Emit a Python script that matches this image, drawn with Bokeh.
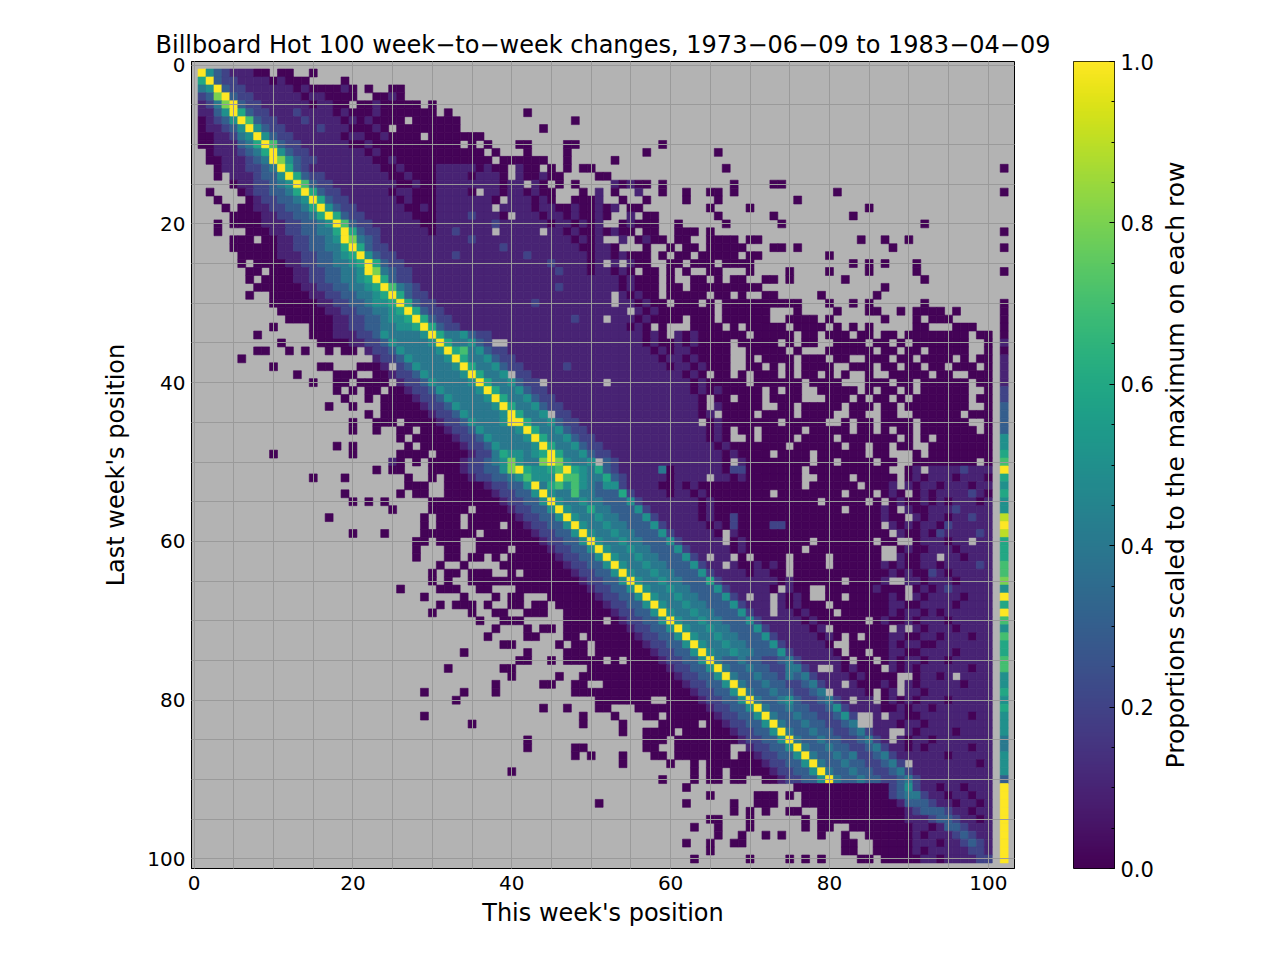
import numpy as np
from bokeh.plotting import figure
from bokeh.models import (Range1d, LinearColorMapper, ColumnDataSource, SingleIntervalTicker,
                          FixedTicker, PrintfTickFormatter)
from bokeh.transform import transform
from bokeh.layouts import row
from bokeh.embed import file_html
from bokeh.resources import INLINE
from bokeh.core.properties import value
from bokeh.palettes import Viridis256

# ---------------- texts / ticks ----------------
title_text = "Billboard Hot 100 week\u2212to\u2212week changes, 1973\u221206\u221209 to 1983\u221204\u221209"
x_label = "This week's position"
y_label = "Last week's position"
cbar_label = "Proportions scaled to the maximum on each row"
axis_tick_interval = 20
grid_ticks = list(range(0, 105, 5))
cbar_ticks = [0.0, 0.2, 0.4, 0.6, 0.8, 1.0]
cbar_minor = [round(0.05 * i, 2) for i in range(21)]
dropped_col = 102   # column where "dropped out of the chart" is shown

# ---------------- data ----------------
# One string per "last week" row: 100 cells for "this week" positions 1..100
# (10 groups of 10), then "|" and the dropped-out cell.
# '.' = no data, '0' ~ 0.0, '1'..'9' = 0.1..0.9, 'Y' = 1.0 (row maximum)
rows_01_25 = [
"Y53211100. 00..0..... | .",
"6Y32211110 1000....0. | .",
"45Y3221111 1101000010 .0..00.... | .",
"238Y322111 1110110000 ..0010.... | .",
"1248Y32211 111101100. 00100000.0 | .",
"1135Y63221 1121111010 0010000000 .0........ .0........ | .",
"01235Y7322 1112111101 010000.000 000....... .......0.. | .",
"011235Y532 2111121110 0010.00000 000....... ...0...... | .",
"0011245Y53 2211111101 10010000.0 000000.... | .",
"00111346Y7 3221111110 0100000000 000.0.0... 00....00.. ........0. | .",
".01112346Y 5322111111 1010000000 000000.0.. .0....0... ......0... .....0.... | .",
".00111234Y 8532211111 1100100000 0000000.00 0000..0... ..0....... | .",
"..01112234 Y632111111 1110010000 111110100. 100.0.0.00 .......... ......0... | 0",
"..0.111233 5Y63221111 1111001000 111101110. 100100.... 00........ | .",
"....011223 45Y7322111 1111100100 1111111101 1.10.0.0.. ..10100.0. .......0.. ..00...... | .",
".0...01223 346Y632211 1111011000 11110.1101 10100...0. 1.0..1..0. .0..00.0.. .......... 0......... | 0",
"..0...0122 3345Y63221 1111101000 11111110.1 11010..000 1..0..0... .0...0.... .....0.... | .",
"...0.00112 23346Y5322 1111110010 1111111.11 1101100100 101.00.... ....0....0 .......... ....0..... | .",
"....000011 223346Y632 2111111000 111121110. 1110110100 10..1.00.. .....0.... ..0....... ..0....... | .",
"..0.000011 1223345Y73 2211111100 1111111211 1111011010 1..01000.. 0.....0... ...0...... .......... .0........ | .",
"..0...0001 12233446Y6 3221111110 1121111.11 111.110100 10100.00.. 000.0..... | 0",
"....000.00 11223345Y8 4321111111 1111211111 1111111010 1..1.0100. 00..0000.0 0......... ...0..0..0 | .",
"....000000 112233446Y 6322111111 1111111121 1111111100 110...0..0 .00.00000. ..00.0.... .......0.. | 0",
".....00000 1112233456 Y532211111 1121111111 1211111110 1101000.0. 00.00000.0 0........0 | .",
".....0.000 0112233445 6Y63221111 1111111111 1111211110 1.1.100..0 0.000.0000 .......... ..0.0.0... 0......... | .",
]
rows_26_50 = [
"......00.0 0011223344 5Y84322111 1111111111 1111121110 11010.00.0 .0..00...0 ....0....0 ....0..... 0......... | 0",
"......0.00 0011223344 56Y6322111 1111111111 1111111111 11101000.0 ..00.0.00. .00.0..... .0........ .0........ | .",
".......000 0001122334 456Y743211 1111111111 1111121111 11101000.0 0.00000000 0......... ......0... | .",
"......0..0 0000112233 4456Y63221 1111111111 1111111111 11.10100.0 0000.00.0. .00.....0. .....0.... | .",
".........0 0000011223 34556Y6322 1111111111 1121111111 11.110100. 000.0.0000 000000...0 ..0.0..... .0........ | 0",
".......... 0000001122 334456Y632 2111111111 1111111111 1111.10100 00000.0000 00...0.... 0...00..0. 0000.0.... | 0",
".......... .000000112 2334556Y63 2211111111 1111111211 1.11101000 0.000.0000 00..0000.0 ......0... 0.000..... | 0",
".........0 ....000112 23344556Y6 3221111111 1111111111 1111010.0. ..0000.0.0 0000.0000. 0.0.0..... 00...000.. | 0",
".......0.. ....000111 223544445Y 6445322111 1111111111 111111010. 101000000. 00000.00.0 00.00.00.0 0000000.00 | 0",
".......... 0....00001 1223544445 Y644532..1 1111111111 1111110100 1010000.00 000.0.00.. 0000.00.0. 0000000..0 | 1",
".......00. .0.0..0.00 .122354444 5Y67453221 1111111111 1111111010 1100000..0 0000.0...0 00000.00.0 0.00000..0 | 0",
".....0.... .......... ..12235444 45Y6445322 1111111111 1111111101 1010000..0 .0000.000. 00..000.00 .0000.0.00 | 1",
".........0 .....00... 0001.23544 445Y644532 2111112111 1111111110 1101000..0 0.0.0.0000 ..000.00.0 0.00.000.0 | 1",
".......... ..0....000 ..00122354 4445Y6445. 2211111111 1111111111 1010.00.0. 000.0.00.0 .0..0..000 00.00..000 | 1",
".......... ....0..00. 0000.12235 44445Y6445 322.111111 1.11111111 110100000. 000000.000 0...000.00 .000000.00 | 1",
".......... .......0.0 .00.001223 544445Y644 5322111111 1111111111 1101010000 0.0.00..00 000.0.00.0 .000000..0 | 2",
".......... ........0. .0.0000122 3544445Y64 4532211111 1111111111 1110.00.00 0.0000...0 00.0.00.0. 0000000.00 | 2",
".......... ......0..0 ...0000012 23544445Y6 4453221111 1111111111 1110.10000 0..00.0000 0.000.00.0 0000000..0 | 3",
".......... .......... .0.0000001 223544445Y 6445.22111 1111111111 11101.0000 .0000.0000 ..00..00.. 000000.000 | 3",
".......... .........0 ..000.0000 122354445Y Y644532211 1111111111 111.010000 000.00000. .0.00.0000 .000000..0 | 3",
".......... .........0 ..0..00.00 0122354444 5Y64453221 1111111111 1111010.00 .00000.000 00.00.0.00 .0000000.0 | 3",
".......... .......... .....0.000 0012235444 45Y6445322 1111111111 1111010..0 .0000.0000 .0000000.0 .0.0000000 | 5",
".......... .......0.0 ......0.00 0001223544 445Y644532 2111111111 1111101000 0000.00000 0.00.00.00 ..00000000 | 5",
".........0 .........0 .....0000. 0000122465 5456Y64453 2211111111 1111110100 00.0000.00 0000.00... 0.00000000 | 6",
".......... .......... ....10.0.0 0001223458 5448Y85445 .321111111 1111110.10 0000000.00 .0000.00.. 00000000.0 | 7",
]
rows_51_75 = [
".......... .......... ..0.00...0 0001223358 Y65567Y654 6321111140 1111110220 000000.000 0000000..0 1.11112111 | Y",
".......... ....0...0. ......0..0 .000122334 57555Y7754 4632111110 1111.11010 000000..00 00.00000.0 1011101110 | 6",
".......... .......... ......000. .000001223 35Y4675754 3552111100 1010000000 000000.000 000.0001.1 0110111011 | 5",
".......... ........0. .....0.00. .000000122 335Y544744 3336211110 1101000000 00.0000000 0.000.010. 0101111210 | 6",
".......... .........0 .0.0.....0 0000000012 2335Y54454 4333521111 1110100000 00000000.0 0000.0.010 0101011101 | 5",
".......... .......... ....0....0 0000.00001 22335Y5446 4433352111 1110100000 0000000000 0.000010.1 0011121111 | 5",
".......... ......0... ........0. 000.000000 122335Y544 5443335211 1110100200 0000000000 000000100. 1011011211 | 9",
".......... .......... ........0. 000.0000.0 0122335Y54 4544333521 1111010200 0022000000 000000.101 0110211111 | Y",
".......... .........0 ...0....00 00000.0000 00122335Y5 4454433352 111110.100 0000000000 0000000.10 0102111121 | 9",
".......... .......... .......00. 000..00000 000122335Y 5445443335 211111.010 0000000.00 00000.00.. 0111011.11 | 6",
".......... .......... .......0.. .00..0000. 0000122335 Y544544333 5211111010 000000.000 000000..01 0011101111 | 6",
".......... .......... .......0.. .00.00.0.0 0000012233 5Y54454433 3521.11.0. 0000.0000. 000000..10 011.110111 | 6",
".......... .......... .......... 0..0....00 0000001223 35Y5445443 335211.100 1010.0000. 0000001010 0110111121 | 7",
".......... .......... .........0 .00.000..0 .000000122 335Y544544 3335211110 1100.00000 0000000101 0021011111 | 7",
".......... .......... .........0 .0..000000 0000000012 2335Y54454 4333621111 1110100000 0.00001..1 1011101111 | 8",
".......... .......... .....0.... 000..00... 0000000001 22335Y5445 4433352111 110.100..0 000001000. 0101211111 | 5",
".......... .......... ........0. ...0...0.0 0...000000 122335Y544 544333521. 11.1010..0 0.0000010. 1011110111 | Y",
".......... .......... .......... 0.000.0..0 0.00.00000 0122335Y54 4544333521 11.101000. 0000000110 0111101111 | 6",
".......... .......... .........0 ....0..00. .000..0000 00122335Y5 4454433352 11.1101000 .000000101 1010111111 | Y",
".......... .......... .......... .....0..00 0.....0000 0.0122335Y 5445443335 2111110100 0000.01001 0111011111 | 7",
".......... .......... .......... .......0.. .0.00.0000 0000122335 Y544544333 521111101. 0000000.1. 1011101111 | 5",
".......... .......... .......... ......0... .00...00.0 0000012233 5Y54454433 3521111101 0.0.000110 0110111011 | 7",
".......... .......... .......... ........00 .....0.00. 0000001223 35Y5445443 3352111110 ..00000101 1001111111 | 6",
".......... .......... .......... ...0...... .0....000. 0000000122 335Y544544 3335211111 0.00.00110 0111101111 | 6",
".......... .......... .......... .......... 00..0.0000 0.0.000012 2335Y43343 3223421111 10.00.0101 1011011111 | 7",
]
rows_76_100 = [
".......... .......... .......... .0......00 .........0 0000000001 22335Y4334 33224421.. 101000.101 0111111011 | 7",
".......... .......... .......... .........0 .....0..00 0000000000 122335Y433 4332434211 11010000.. 01101.1111 | 5",
".......... .......... .......... .......0.. ...00..00. .000000000 0122335Y43 3433223421 1.100010.1 0111110111 | 5",
".......... .......... ........0. ...0...0.. .......000 0000000000 00122335Y4 334332234. 11110.01.1 1011111111 | 6",
".......... .......... .......... ..0....... .......... 0000000..0 000122335Y 4334532234 21.11.0101 0111011111 | 5",
".......... .......... .......... .......... ...0..0... 00...00000 0000122335 Y433433223 5211110010 1101111111 | 6",
".......... .......... ........0. .......... ........0. ..0...00.0 0000012233 5Y43343322 352..1.110 0111111011 | 5",
".......... .......... .......... ....0..... ........0. ...0....00 000.001223 35Y4334332 234..11101 1011111111 | 5",
".......... .......... .......... .......... .......... ...0..0000 .000000122 335Y433433 2234211..1 0111101111 | 5",
".......... .......... .......... .......... .0........ ......000. 0000000012 2335Y43343 3223421.10 1101111111 | 4",
".......... .......... .......... .......... .0.....00. ......00.. 0000000..1 22335Y4334 3322342110 1011111011 | 4",
".......... .......... .......... .......... .......0.0 ...0...00. 0000000.00 122335Y433 4342234211 1111011111 | 5",
".......... .......... .......... .......... .......... ...0.....0 ..0.000000 0122335Y43 343322342. 1111111101 | 5",
".......... .......... .......... .........0 .......... .......... ..0.00.000 00122335Y4 3343322342 1111111111 | 5",
".......... .......... .......... .......... .......... ........0. ..0.00.00. .00122335Y 4334332234 2111111111 | 3",
".......... .......... .......... .......... .......... .......... .0........ .....00000 0000000235 2110110111 | Y",
".......... .......... .......... .......... .......... .......... ....0..... 000.0.0000 0000000234 4211011011 | Y",
".......... .......... .......... .......... .......... 0......... .0.....0.. 000...0000 0000000013 3321101101 | Y",
".......... .......... .......... .......... .......... .......... .......0.0 .0..00..00 0000000001 2333211011 | Y",
".......... .......... .......... .......... .......... .......... ....00...0 ......0.00 0000000001 1123321101 | Y",
".......... .......... .......... .......... .......... .......... ..0..0...0 ......0.00 ..00000000 1101332111 | Y",
".......... .......... .......... .......... .......... .......... .....0..0. .0.0....0. .0..000000 1011123211 | Y",
".......... .......... .......... .......... .......... .......... .0..0..00. .......... .00..00000 1110112321 | Y",
".......... .......... .......... .......... .......... .......... ....0..... .......... .00..00000 1011111221 | Y",
".......... .......... .......... .......... .......... .......... ..0......0 ....0.0.0. ...00.0000 0110111122 | Y",
]

level_values = {"0": 0.01, "1": 0.1, "2": 0.2, "3": 0.3, "4": 0.4, "5": 0.5,
                "6": 0.6, "7": 0.7, "8": 0.8, "9": 0.9, "Y": 1.0}

xs, ys, vs = [], [], []
all_rows = rows_01_25 + rows_26_50 + rows_51_75 + rows_76_100
for r, line in enumerate(all_rows, start=1):
    left, drop = line.split("|")
    cells = ("".join(left.split()) + "." * 100)[:100]
    for c, ch in enumerate(cells, start=1):
        if ch in level_values:
            xs.append(c); ys.append(r); vs.append(level_values[ch])
    d = drop.strip()
    if d in level_values:
        xs.append(dropped_col); ys.append(r); vs.append(level_values[d])

src = ColumnDataSource(dict(x=xs, y=ys, v=vs))
mapper = LinearColorMapper(palette=Viridis256, low=0.0, high=1.0)

FONT = "DejaVu Sans"
GRAY = "#b3b3b3"

# ---------------- main heatmap ----------------
p = figure(frame_width=823, frame_height=807,
           x_range=Range1d(-0.33, 103.3), y_range=Range1d(101.2, -0.45),
           output_backend="svg", toolbar_location=None,
           min_border_left=191, min_border_right=46, min_border_top=61, min_border_bottom=80,
           title=title_text)
p.background_fill_color = GRAY
p.border_fill_color = "white"
p.outline_line_color = "black"
p.outline_line_width = 1

p.rect(x="x", y="y", width=1, height=1, source=src,
       fill_color=transform("v", mapper), line_color=transform("v", mapper), line_width=0.6)

p.title.text_font = FONT
p.title.text_font_size = "24px"
p.title.text_font_style = "normal"
p.title.text_color = "black"
p.title.align = "center"
p.title.standoff = 6

for ax in (p.xaxis[0], p.yaxis[0]):
    ax.ticker = SingleIntervalTicker(interval=axis_tick_interval, num_minor_ticks=4)
    ax.major_tick_in = 6
    ax.major_tick_out = 0
    ax.minor_tick_in = 4
    ax.minor_tick_out = 0
    ax.axis_line_color = "black"
    ax.major_tick_line_color = "black"
    ax.minor_tick_line_color = "black"
    ax.major_label_text_font = FONT
    ax.major_label_text_font_size = "20px"
    ax.major_label_text_color = "black"
    ax.axis_label_text_font = FONT
    ax.axis_label_text_font_size = "24px"
    ax.axis_label_text_font_style = "normal"
    ax.axis_label_text_color = "black"
p.xaxis.axis_label = x_label
p.yaxis.axis_label = y_label
p.xaxis.major_label_standoff = 7
p.yaxis.major_label_standoff = 6
p.xaxis.axis_label_standoff = 6
p.yaxis.axis_label_standoff = 14

for g in (p.xgrid[0], p.ygrid[0]):
    g.ticker = FixedTicker(ticks=grid_ticks)
    g.grid_line_color = "#9a9a9a"
    g.grid_line_width = 1
    g.level = "overlay"

# ---------------- colour bar ----------------
cb = figure(frame_width=41, frame_height=807, x_range=Range1d(0, 1), y_range=Range1d(0, 1),
            output_backend="svg", toolbar_location=None,
            x_axis_location=None, y_axis_location="right",
            min_border_left=13, min_border_right=46, min_border_top=61, min_border_bottom=80)
grad = np.linspace(0, 1, 256).reshape(256, 1) * np.ones((1, 2))
cb.image(image=[grad], x=0, y=0, dw=1, dh=1, color_mapper=mapper)
cb.grid.visible = False
cb.outline_line_color = "black"
cb.border_fill_color = "white"
cax = cb.yaxis[0]
cax.ticker = FixedTicker(ticks=cbar_ticks, minor_ticks=cbar_minor)
cax.formatter = PrintfTickFormatter(format="%.1f")
cax.major_tick_in = 5
cax.major_tick_out = 0
cax.minor_tick_in = 3
cax.minor_tick_out = 0
cax.axis_line_color = None
cax.major_tick_line_color = "black"
cax.minor_tick_line_color = "black"
cax.major_label_text_font = FONT
cax.major_label_text_font_size = "21px"
cax.major_label_text_color = "black"
cax.major_label_standoff = 6

# ---------------- colour bar label ----------------
lab = figure(frame_width=30, frame_height=807, x_range=Range1d(-1, 1), y_range=Range1d(0, 1),
             output_backend="svg", toolbar_location=None,
             x_axis_location=None, y_axis_location=None,
             min_border_left=0, min_border_right=0, min_border_top=61, min_border_bottom=80)
lab.outline_line_color = None
lab.grid.visible = False
lab.text(x=[0], y=[0.5], text=[cbar_label], angle=np.pi / 2,
         text_align="center", text_baseline="middle",
         text_font=value(FONT), text_font_size="25px", text_color="black")

layout = row(p, cb, lab)
open("out.html", "w").write(file_html(layout, INLINE))
